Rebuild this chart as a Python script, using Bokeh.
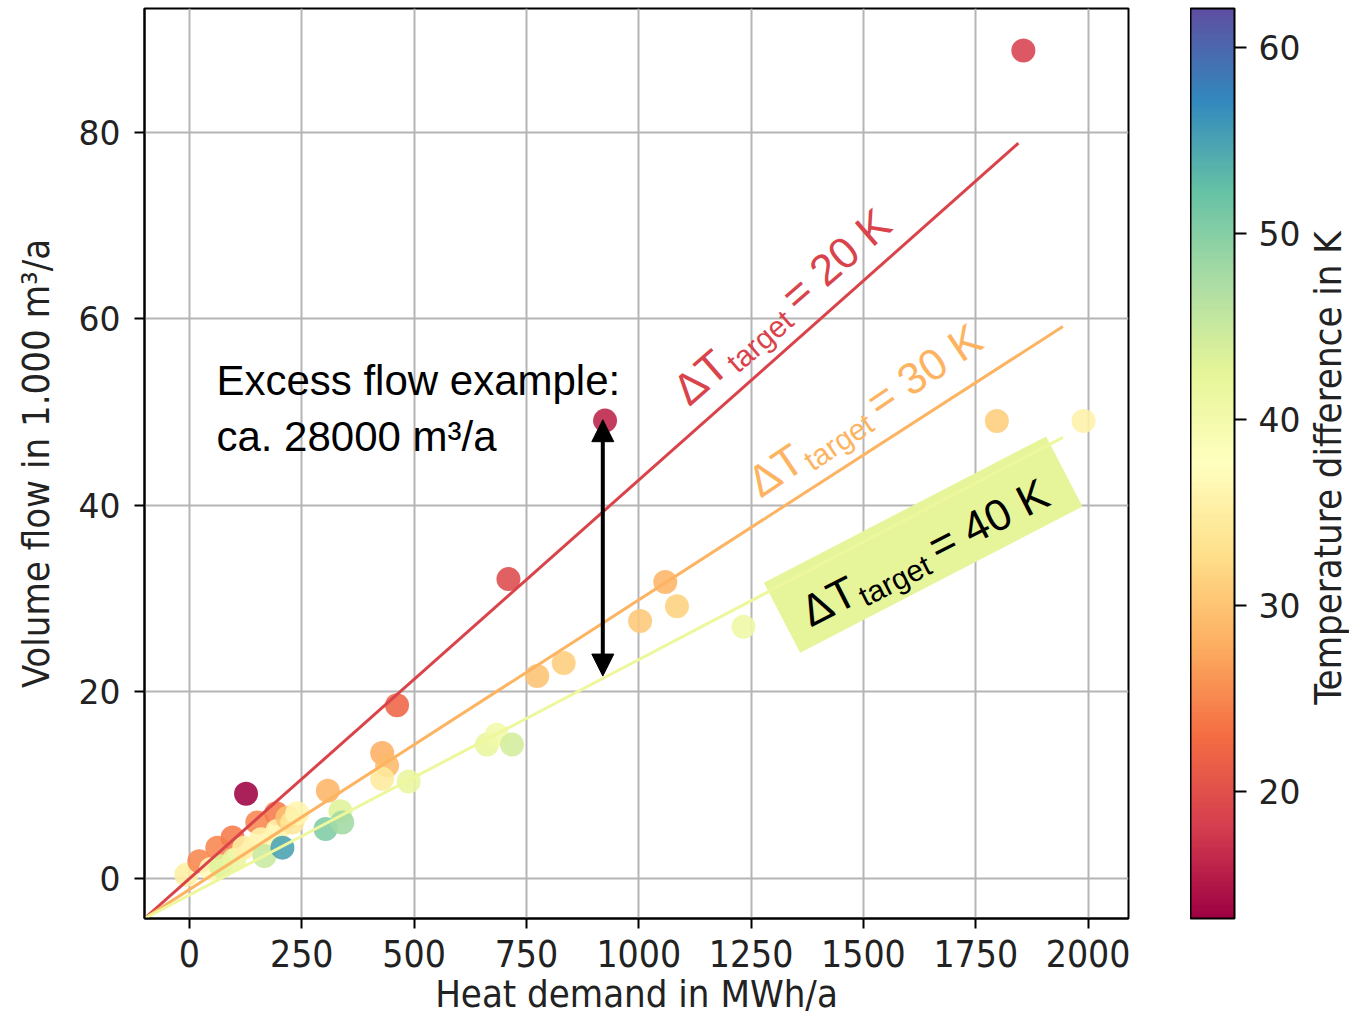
import math
import numpy as np
from bokeh.plotting import figure
from bokeh.layouts import row
from bokeh.models import (ColumnDataSource, LinearColorMapper, ColorBar, FixedTicker,
                          Arrow, NormalHead, Range1d)
from bokeh.core.properties import value
from bokeh.embed import file_html
from bokeh.resources import INLINE

# ---------------- data ----------------
heat_demand = [-7, 22, 48, 62, 70, 96, 100, 122, 151, 160, 167, 193, 196, 207, 218, 229, 240,
               126, 462, 429, 440, 429, 488, 308, 336, 303, 340, 662, 684, 718,
               710, 1059, 1085, 1003, 1233, 833, 774, 925, 1856, 1797, 1990]
volume_flow = [0.4, 1.85, 1.0, 3.3, 1.3, 4.4, 2.0, 3.3, 6.0, 4.2, 2.4, 7.0, 5.1, 3.3, 6.5, 6.0, 7.0,
               9.07, 18.56, 13.46, 12.1, 10.7, 10.4, 9.4, 7.2, 5.3, 6.0, 14.35, 15.4, 14.35,
               32.1, 31.8, 29.2, 27.6, 27.0, 23.1, 21.7, 49.1, 88.8, 49.05, 49.05]
temp_diff = [35, 25, 37, 25, 43, 24, 42, 35, 25, 36, 45, 24, 36, 55, 30, 34, 36,
             13.3, 22, 28, 29, 34.5, 42, 28.5, 43, 50.5, 48, 42, 40.5, 44,
             19.5, 28.5, 31.5, 30.5, 41, 31, 30, 16, 18.5, 31, 35.5]

x_ticks = [0, 250, 500, 750, 1000, 1250, 1500, 1750, 2000]
y_ticks = [0, 20, 40, 60, 80]
cbar_ticks = [20, 30, 40, 50, 60]
cbar_low, cbar_high = 13.2, 62.1
cbar_title = ["Temperature difference in K"]

# reference lines for target temperature differences
target_dt = [20, 30, 40]
line_start_x = [-100, -100, -100]
line_start_y = [-4.3, -4.3, -4.3]
line_end_x = [1845, 1944, 1944]
line_end_y = [78.85, 59.2, 47.3]
line_colors = ["#d9444b", "#fdb462", "#eef79c"]

# labels for the reference lines
label_anchor_x = [1090, 1252, 1367]
label_anchor_y = [51.8, 42.1, 28.4]
label_angle_deg = [41, 34, 27]
label_colors = ["#d9434b", "#fdb462", "#000000"]

# highlight box behind 40 K label
box_x, box_y = [1633], [35.8]

# excess flow arrow
arrow_x = 920
arrow_y_low, arrow_y_high = 21.7, 49.2
excess_text = ["Excess flow example:", "ca. 28000 m\u00b3/a"]
excess_x = [60, 60]
excess_y = [53.45, 47.35]

# ---------------- palette ----------------
spectral11 = ['#9e0142', '#d53e4f', '#f46d43', '#fdae61', '#fee08b', '#ffffbf',
              '#e6f598', '#abdda4', '#66c2a5', '#3288bd', '#5e4fa2']
rgb = np.array([[int(c[i:i + 2], 16) for i in (1, 3, 5)] for c in spectral11], float)
pos = np.linspace(0, 1, len(spectral11))
fine = np.linspace(0, 1, 256)
palette = ["#%02x%02x%02x" % tuple(int(round(np.interp(f, pos, rgb[:, k]))) for k in range(3))
           for f in fine]
mapper = LinearColorMapper(palette=palette, low=cbar_low, high=cbar_high)

# ---------------- main figure ----------------
H = 1020
FRAME_TOP, FRAME_BOTTOM = 8, 918
p = figure(width=1190, height=H, x_range=Range1d(-100, 2090), y_range=Range1d(-4.3, 93.3),
           output_backend="svg", toolbar_location=None,
           min_border_left=144, min_border_right=62, min_border_top=FRAME_TOP,
           min_border_bottom=H - FRAME_BOTTOM)
p.outline_line_color = "black"
p.outline_line_width = 2
p.background_fill_color = "white"
p.border_fill_color = "white"

p.xaxis.ticker = FixedTicker(ticks=x_ticks)
p.yaxis.ticker = FixedTicker(ticks=y_ticks)
for ax in (p.xaxis[0], p.yaxis[0]):
    ax.axis_line_color = "black"
    ax.axis_line_width = 2
    ax.major_tick_line_color = "black"
    ax.major_tick_line_width = 2
    ax.major_tick_out = 10
    ax.major_tick_in = 0
    ax.minor_tick_line_color = None
    ax.major_label_text_color = "#222222"
    ax.axis_label_text_color = "#222222"
    ax.axis_label_text_font_style = "normal"
    ax.axis_label_text_font = "DejaVu Sans Condensed"
    ax.axis_label_text_font_size = "38px"

p.xaxis.major_label_text_font = "DejaVu Sans Condensed"
p.xaxis.major_label_text_font_size = "37px"
p.xaxis.major_label_standoff = 11
p.xaxis.axis_label = "Heat demand in MWh/a"
p.xaxis.axis_label_standoff = 2

p.yaxis.major_label_text_font = "DejaVu Sans"
p.yaxis.major_label_text_font_size = "33px"
p.yaxis.major_label_standoff = 14
p.yaxis.axis_label = "Volume flow in 1.000 m\u00b3/a"
p.yaxis.axis_label_standoff = 18

p.grid.grid_line_color = "#b5b5b5"
p.grid.grid_line_width = 2

# points
src = ColumnDataSource(dict(x=heat_demand, y=volume_flow, t=temp_diff))
p.scatter("x", "y", source=src, size=24, line_color=None, fill_alpha=0.88,
          fill_color={"field": "t", "transform": mapper})

# 40 K highlight box
p.rect(box_x, box_y, width=318, height=79, width_units="screen", height_units="screen",
       angle=27.4, angle_units="deg", fill_color="#e6f59a", line_color=None)

# reference lines
p.segment(line_start_x, line_start_y, line_end_x, line_end_y, line_color=line_colors, line_width=3)

# line labels made of pieces: "ΔT", subscript "target", "= xx K"
px_, py_, pt_, ps_, pa_, pc_, pxo, pyo = [], [], [], [], [], [], [], []
big, small = 44, 30
w_dt, w_sub, gap, drop = 57, 77, 8, 12
for i, dt in enumerate(target_dt):
    a = math.radians(label_angle_deg[i])
    parts = [("\u0394T", big, 0, 0), ("target", small, w_dt + 1, drop),
             ("= %d K" % dt, big, w_dt + 1 + w_sub + gap, 0)]
    for txt, fs, adv, dr in parts:
        px_.append(label_anchor_x[i]); py_.append(label_anchor_y[i])
        pt_.append(txt); ps_.append("%dpx" % fs); pa_.append(a); pc_.append(label_colors[i])
        pxo.append(adv * math.cos(a) + dr * math.sin(a))
        pyo.append(-adv * math.sin(a) + dr * math.cos(a))
lsrc = ColumnDataSource(dict(x=px_, y=py_, text=pt_, size=ps_, angle=pa_, color=pc_, xo=pxo, yo=pyo))
p.text("x", "y", text="text", source=lsrc, angle="angle", text_color="color",
       text_font_size="size", x_offset="xo", y_offset="yo",
       text_font=value("Liberation Sans"), text_baseline="alphabetic", text_align="left")

# excess flow annotation
p.text(excess_x, excess_y, text=excess_text, text_font=value("Liberation Sans"),
       text_font_size="42px", text_color="black", text_baseline="alphabetic", text_align="left")
p.add_layout(Arrow(start=NormalHead(size=22, fill_color="black", line_color="black"),
                   end=NormalHead(size=22, fill_color="black", line_color="black"),
                   x_start=arrow_x, y_start=arrow_y_low, x_end=arrow_x, y_end=arrow_y_high,
                   line_width=4, line_color="black"))

# ---------------- colour bar figure ----------------
CBW = 159
cbf = figure(width=CBW, height=H, x_range=Range1d(0, CBW), y_range=Range1d(0, 1),
             output_backend="svg", toolbar_location=None,
             x_axis_location=None, y_axis_location=None,
             min_border_left=0, min_border_right=0, min_border_top=FRAME_TOP,
             min_border_bottom=H - FRAME_BOTTOM)
cbf.outline_line_color = None
cbf.grid.visible = False
cbf.background_fill_color = "white"
cbf.border_fill_color = "white"

cb = ColorBar(color_mapper=mapper, ticker=FixedTicker(ticks=cbar_ticks), width=44,
              height=FRAME_BOTTOM - FRAME_TOP, padding=0, margin=0, location=(0, 0),
              bar_line_color="black", bar_line_width=2,
              major_tick_out=12, major_tick_in=0, major_tick_line_color="black",
              major_tick_line_width=2, minor_tick_line_color=None,
              major_label_text_font="DejaVu Sans", major_label_text_font_size="33px",
              major_label_text_color="#222222", label_standoff=12,
              border_line_color=None, background_fill_color=None)
cbf.add_layout(cb)
cbf.text(x=[137], y=[0.495], text=cbar_title, angle=math.pi / 2,
         text_font=value("DejaVu Sans Condensed"), text_font_size="38px",
         text_color="#222222", text_align="center", text_baseline="middle")

layout = row(p, cbf, spacing=0)
open("out.html", "w").write(file_html(layout, INLINE))
